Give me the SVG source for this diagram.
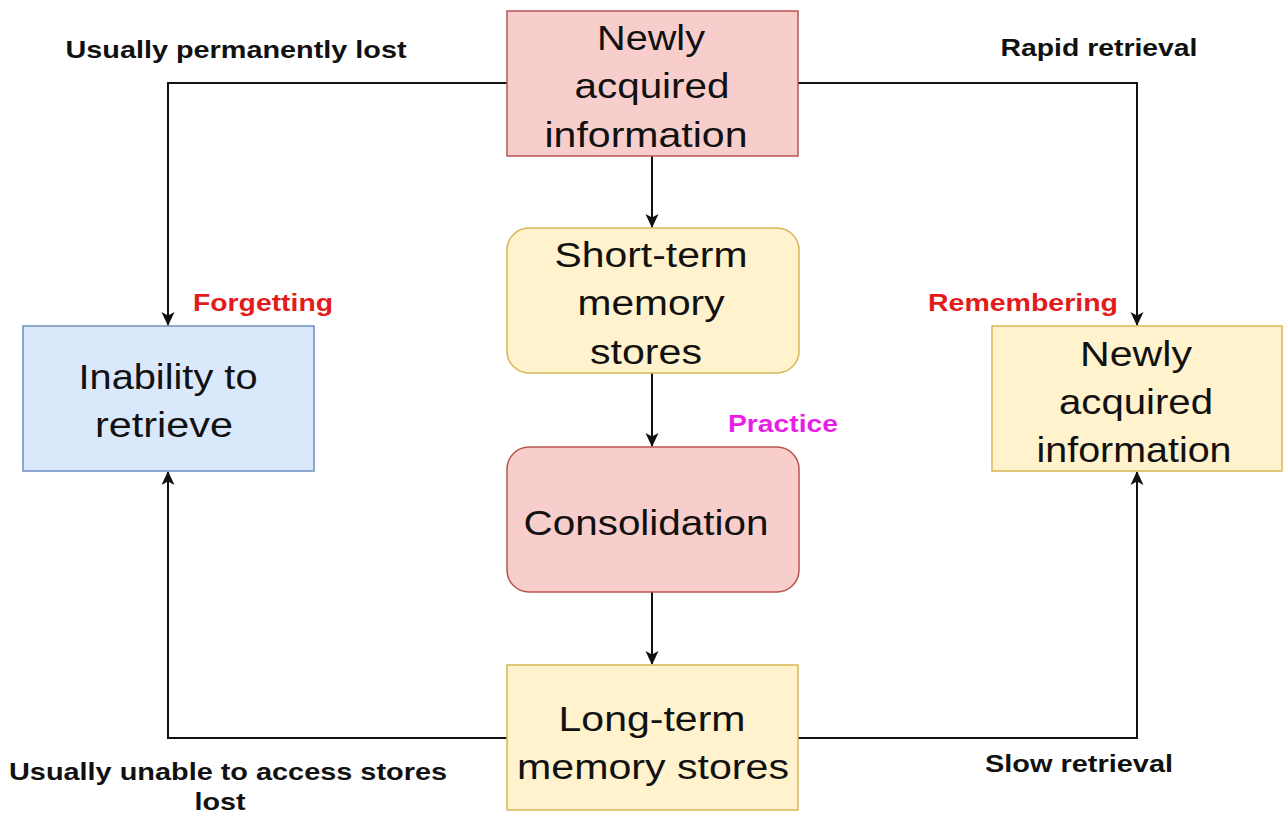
<svg xmlns="http://www.w3.org/2000/svg" width="1283" height="814" viewBox="0 0 1283 814">
<style>
.nt{font-family:"Liberation Sans",Arial,sans-serif;font-size:35px;fill:#111;text-anchor:middle}
.lb{font-family:"Liberation Sans",Arial,sans-serif;font-size:24px;font-weight:bold;fill:#111;text-anchor:middle}
.red{fill:#e31b1b}
.mag{fill:#e81ee8}
.pink{fill:#f8cecc;stroke:#b85450;stroke-width:1.5}
.yel{fill:#fff2cc;stroke:#d6b656;stroke-width:1.5}
.blue{fill:#dae8fc;stroke:#6c8ebf;stroke-width:1.5}
.ln{fill:none;stroke:#111;stroke-width:2;marker-end:url(#ah)}
</style>
<defs>
<marker id="ah" markerWidth="16" markerHeight="16" refX="14" refY="8" orient="auto" markerUnits="userSpaceOnUse">
<path d="M1,1.5 L15,8 L1,14.5 L4.5,8 Z" fill="#111"/>
</marker>
</defs>
<rect width="1283" height="814" fill="#fff"/>
<g id="connectors">
<path class="ln" d="M507,83 H168 V325"/>
<path class="ln" d="M798,83 H1137 V325"/>
<path class="ln" d="M652,156 V227"/>
<path class="ln" d="M652,373 V446"/>
<path class="ln" d="M652,592 V664"/>
<path class="ln" d="M507,738 H168 V472"/>
<path class="ln" d="M798,738 H1137 V472"/>
</g>
<g id="n-top">
<rect class="pink" x="507" y="11" width="291" height="145"/>
<text class="nt" x="651" y="50" textLength="108" lengthAdjust="spacingAndGlyphs">Newly</text>
<text class="nt" x="652" y="98" textLength="155" lengthAdjust="spacingAndGlyphs">acquired</text>
<text class="nt" x="646" y="147" textLength="203" lengthAdjust="spacingAndGlyphs">information</text>
</g>
<g id="n-short">
<rect class="yel" x="507" y="228" width="292" height="145" rx="22"/>
<text class="nt" x="651" y="267" textLength="193" lengthAdjust="spacingAndGlyphs">Short-term</text>
<text class="nt" x="651" y="315" textLength="147" lengthAdjust="spacingAndGlyphs">memory</text>
<text class="nt" x="646" y="364" textLength="112" lengthAdjust="spacingAndGlyphs">stores</text>
</g>
<g id="n-cons">
<rect class="pink" x="507" y="447" width="292" height="145" rx="22"/>
<text class="nt" x="646" y="535" textLength="245" lengthAdjust="spacingAndGlyphs">Consolidation</text>
</g>
<g id="n-long">
<rect class="yel" x="507" y="665" width="291" height="145"/>
<text class="nt" x="652" y="731" textLength="187" lengthAdjust="spacingAndGlyphs">Long-term</text>
<text class="nt" x="653" y="779" textLength="272" lengthAdjust="spacingAndGlyphs">memory stores</text>
</g>
<g id="n-left">
<rect class="blue" x="23" y="326" width="291" height="145"/>
<text class="nt" x="168" y="389" textLength="179" lengthAdjust="spacingAndGlyphs">Inability to</text>
<text class="nt" x="164" y="437" textLength="138" lengthAdjust="spacingAndGlyphs">retrieve</text>
</g>
<g id="n-right">
<rect class="yel" x="992" y="326" width="290" height="145"/>
<text class="nt" x="1136" y="366" textLength="112" lengthAdjust="spacingAndGlyphs">Newly</text>
<text class="nt" x="1136" y="414" textLength="154" lengthAdjust="spacingAndGlyphs">acquired</text>
<text class="nt" x="1134" y="462" textLength="195" lengthAdjust="spacingAndGlyphs">information</text>
</g>
<g id="labels">
<text class="lb" x="236" y="58" textLength="341" lengthAdjust="spacingAndGlyphs">Usually permanently lost</text>
<text class="lb" x="1099" y="56" textLength="197" lengthAdjust="spacingAndGlyphs">Rapid retrieval</text>
<text class="lb red" x="263" y="311" textLength="140" lengthAdjust="spacingAndGlyphs">Forgetting</text>
<text class="lb red" x="1023" y="311" textLength="190" lengthAdjust="spacingAndGlyphs">Remembering</text>
<text class="lb mag" x="783" y="432" textLength="110" lengthAdjust="spacingAndGlyphs">Practice</text>
<text class="lb" x="1079" y="772" textLength="188" lengthAdjust="spacingAndGlyphs">Slow retrieval</text>
<text class="lb" x="228" y="780" textLength="438" lengthAdjust="spacingAndGlyphs">Usually unable to access stores</text>
<text class="lb" x="220" y="810" textLength="51" lengthAdjust="spacingAndGlyphs">lost</text>
</g>
</svg>
